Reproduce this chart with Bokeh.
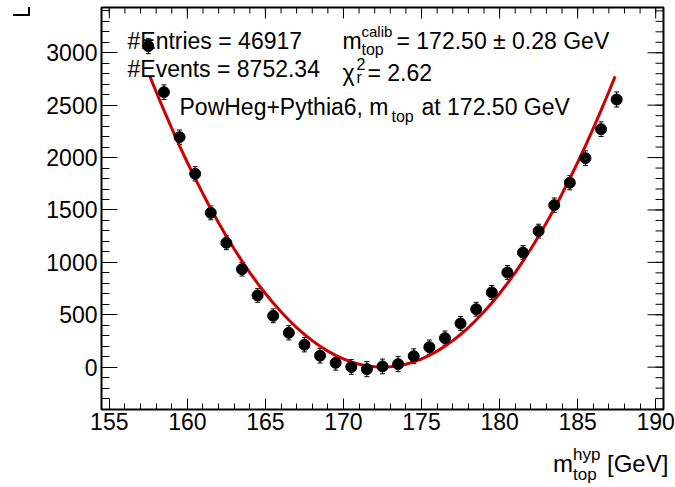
from bokeh.plotting import figure
from bokeh.models import (Range1d, FixedTicker, Label, Whisker,
                          TeeHead, ColumnDataSource, Div)
from bokeh.layouts import column
from bokeh.embed import file_html
from bokeh.resources import INLINE

# ---------------- data ----------------
mass_hyp = [157.5, 158.5, 159.5, 160.5, 161.5, 162.5, 163.5, 164.5, 165.5, 166.5,
            167.5, 168.5, 169.5, 170.5, 171.5, 172.5, 173.5, 174.5, 175.5, 176.5,
            177.5, 178.5, 179.5, 180.5, 181.5, 182.5, 183.5, 184.5, 185.5, 186.5,
            187.5]
chi2_vals = [3063, 2624, 2195, 1845, 1473, 1187, 935, 684, 490, 328,
             214, 109, 42, 2, -19, 7, 29, 105, 191, 277,
             417, 553, 713, 904, 1094, 1298, 1546, 1760, 1994, 2271,
             2554]
chi2_errs = [72, 70, 68, 68, 66, 66, 65, 65, 66, 68,
             68, 70, 70, 70, 72, 70, 72, 70, 68, 68,
             66, 66, 66, 66, 66, 66, 68, 68, 70, 70,
             72]

# fit curve
fit_x = [157.6, 158.0, 158.5, 159.0, 159.5, 160.0, 160.5, 161.0, 161.5, 162.0,
         162.5, 163.0, 163.5, 164.0, 164.5, 165.0, 165.5, 166.0, 166.5, 167.0,
         167.5, 168.0, 168.5, 169.0, 169.5, 170.0, 170.5, 171.0, 171.5, 172.0,
         172.5, 173.0, 173.5, 174.0, 174.5, 175.0, 175.5, 176.0, 176.5, 177.0,
         177.5, 178.0, 178.5, 179.0, 179.5, 180.0, 180.5, 181.0, 181.5, 182.0,
         182.5, 183.0, 183.5, 184.0, 184.5, 185.0, 185.5, 186.0, 186.5, 187.0,
         187.4]
fit_y = [2775, 2628, 2450, 2278, 2112, 1953, 1800, 1653, 1512, 1378,
         1250, 1128, 1012, 903, 800, 703, 612, 528, 450, 378,
         312, 253, 200, 153, 112, 78, 50, 28, 12, 3,
         0, 3, 12, 28, 50, 78, 112, 153, 200, 253,
         312, 378, 450, 528, 612, 703, 800, 903, 1012, 1128,
         1250, 1378, 1512, 1653, 1800, 1953, 2112, 2278, 2450, 2628,
         2775]

x_major = [155, 160, 165, 170, 175, 180, 185, 190]
x_minor = list(range(155, 191))
y_major = [0, 500, 1000, 1500, 2000, 2500, 3000]
y_minor = list(range(-400, 3500, 100))

# ---------------- layout ----------------
W, H_PLOT, H_TITLE = 675, 450, 37
X0, X1 = 154.5, 190.5
Y0, Y1 = -404, 3432
# frame edges in canvas pixels
FL, FR, FT, FB = 101, 663, 7, 409

p = figure(width=W, height=H_PLOT, x_range=Range1d(X0, X1), y_range=Range1d(Y0, Y1),
           output_backend="svg", toolbar_location=None,
           min_border_left=FL, min_border_right=W - FR,
           min_border_top=FT, min_border_bottom=H_PLOT - FB)
p.xgrid.visible = False
p.ygrid.visible = False
p.outline_line_color = "black"
p.outline_line_width = 2
p.background_fill_color = "white"
p.border_fill_color = "white"

FONT = "Liberation Sans"


def style_axis(ax, ticker, maj, mnr, standoff):
    ax.ticker = ticker
    ax.axis_line_color = None
    ax.major_tick_in = maj
    ax.major_tick_out = 0
    ax.minor_tick_in = mnr
    ax.minor_tick_out = 0
    ax.major_tick_line_color = "black"
    ax.minor_tick_line_color = "black"
    ax.major_tick_line_width = 1
    ax.minor_tick_line_width = 1
    ax.major_label_text_font = FONT
    ax.major_label_text_font_size = "23px"
    ax.major_label_text_color = "black"
    ax.major_label_standoff = standoff


style_axis(p.xaxis[0], FixedTicker(ticks=x_major, minor_ticks=x_minor), 11, 6, 3)
style_axis(p.yaxis[0], FixedTicker(ticks=y_major, minor_ticks=y_minor), 16, 8, 4)

# mirrored ticks on the top and right frame edges (pixel lengths -> data units)
px_per_x = (FR - FL) / (X1 - X0)
px_per_y = (FB - FT) / (Y1 - Y0)


def top_ticks(xs, length):
    p.segment(x0=xs, y0=[Y1] * len(xs), x1=xs, y1=[Y1 - length / px_per_y] * len(xs),
              line_color="black", line_width=1)


def right_ticks(ys, length):
    p.segment(x0=[X1] * len(ys), y0=ys, x1=[X1 - length / px_per_x] * len(ys), y1=ys,
              line_color="black", line_width=1)


top_ticks(x_minor, 6)
top_ticks(x_major, 11)
right_ticks(y_minor, 8)
right_ticks(y_major, 16)

# ---------------- glyphs ----------------
p.line(fit_x, fit_y, line_color="#cc0000", line_width=3)

src = ColumnDataSource(dict(
    x=mass_hyp, y=chi2_vals,
    lower=[v - e for v, e in zip(chi2_vals, chi2_errs)],
    upper=[v + e for v, e in zip(chi2_vals, chi2_errs)]))
wh = Whisker(source=src, base="x", lower="lower", upper="upper",
             line_color="black", line_width=1,
             upper_head=TeeHead(size=5, line_color="black", line_width=1),
             lower_head=TeeHead(size=5, line_color="black", line_width=1))
p.add_layout(wh)
p.scatter("x", "y", source=src, size=11, color="black")


# ---------------- text inside the frame ----------------
def dx(px):
    return X0 + (px - FL) / (FR - FL) * (X1 - X0)


def dy(py):
    return Y0 + (FB - py) / (FB - FT) * (Y1 - Y0)


def txt(s, px, py, size):
    p.add_layout(Label(x=dx(px), y=dy(py), text=s, text_font=FONT,
                       text_font_size=f"{size}px", text_color="black",
                       text_align="left", text_baseline="alphabetic"))


txt("#Entries = 46917", 127, 40, 23)
txt("#Events = 8752.34", 127, 68, 23)
txt("m", 342, 40, 23)
txt("calib", 361, 31, 15)
txt("top", 361, 49, 16)
txt("= 172.50 \u00b1 0.28 GeV", 396, 40, 23)
txt("\u03c7", 342, 72, 23)
txt("2", 356, 63, 16)
txt("r", 356, 77, 16)
txt("= 2.62", 367, 72, 23)
txt("PowHeg+Pythia6, m", 179, 106, 23)
txt("top", 391, 116, 16)
txt("at 172.50 GeV", 421, 106, 23)

# ---------------- x-axis title (below the plot) ----------------
def span(text, left, top, size):
    return (f'<span style="position:absolute;left:{left}px;top:{top}px;'
            f'font-size:{size}px;line-height:1;white-space:nowrap;">{text}</span>')


def bar(left, top, w, h):
    return (f'<div style="position:absolute;left:{left}px;top:{top}px;'
            f'width:{w}px;height:{h}px;background:black;"></div>')


title_html = (
    f'<div style="position:relative;width:{W}px;height:{H_TITLE}px;'
    f"font-family:'Liberation Sans',Arial,sans-serif;color:black;\">"
    + span("m", 553, 2, 24)
    + span("hyp", 573, -4, 17)
    + span("top", 573, 16, 17)
    + span("[GeV]", 607, 2, 24)
    # small corner mark at the top left of the canvas
    + bar(13, 14 - H_PLOT, 17, 2)
    + bar(28, 7 - H_PLOT, 2, 9)
    + '</div>')

title_div = Div(text=title_html, width=W, height=H_TITLE, margin=(0, 0, 0, 0))

layout = column(p, title_div, spacing=0)
open("out.html", "w").write(file_html(layout, INLINE))
